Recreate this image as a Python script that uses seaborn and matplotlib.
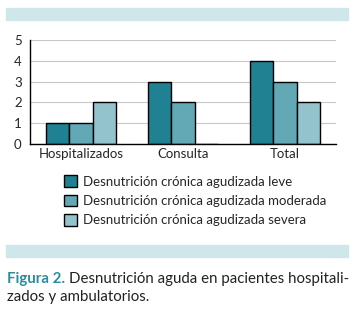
import matplotlib
matplotlib.use("Agg")
import matplotlib.pyplot as plt
from matplotlib.patches import Rectangle, Patch
import seaborn as sns
import pandas as pd

categories = ["Hospitalizados", "Consulta", "Total"]
series = ["Desnutrición crónica agudizada leve",
          "Desnutrición crónica agudizada moderada",
          "Desnutrición crónica agudizada severa"]
leve = [1, 3, 4]
moderada = [1, 2, 3]
severa = [2, 0, 2]
colors = ["#1f8191", "#62a9b5", "#93c4cd"]

rows = []
for s, vals in zip(series, [leve, moderada, severa]):
    for c, v in zip(categories, vals):
        rows.append({"cat": c, "serie": s, "valor": v})
df = pd.DataFrame(rows)

sns.set_style("white")
plt.rcParams["font.family"] = ["Lato", "DejaVu Sans"]

W, H = 354, 317
fig = plt.figure(figsize=(W / 100, H / 100), dpi=100)
ax = fig.add_axes([30 / W, 1 - 144 / H, 306 / W, 104 / H])

sns.barplot(data=df, x="cat", y="valor", hue="serie", palette=colors,
            width=0.68, edgecolor="black", linewidth=1.0, ax=ax,
            legend=False, saturation=1)

ax.set_ylim(0, 5)
ax.set_xlim(-0.5, 2.5)
ax.set_yticks(range(6))
ax.yaxis.grid(True, color="#c8c8c8", linewidth=0.8)
ax.set_axisbelow(True)
ax.set_xlabel("")
ax.set_ylabel("")
for side in ["top", "right"]:
    ax.spines[side].set_visible(False)
for side in ["left", "bottom"]:
    ax.spines[side].set_color("black")
    ax.spines[side].set_linewidth(1.0)
ax.set_xticks([-0.5, 0.5, 1.5, 2.5], minor=True)
ax.tick_params(axis="x", which="major", length=0, labelsize=9.5, pad=3)
ax.tick_params(axis="x", which="minor", length=4, width=1, direction="out",
               color="black")
ax.tick_params(axis="y", length=4, width=1, direction="out", color="black",
               labelsize=9.5, pad=2)

handles = [Patch(facecolor=c, edgecolor="black", linewidth=1.0) for c in colors]
fig.legend(handles, series, loc="upper left", bbox_to_anchor=(59 / W, 1 - 170 / H),
           frameon=False, fontsize=9.5, handlelength=0.95, handleheight=0.95,
           handletextpad=0.45, labelspacing=0.55, borderaxespad=0)

band = "#cfe6ea"
fig.patches.append(Rectangle((6 / W, 1 - 20 / H), 342 / W, 12 / H,
                             transform=fig.transFigure, color=band))
fig.patches.append(Rectangle((6 / W, 1 - 257 / H), 342 / W, 12 / H,
                             transform=fig.transFigure, color=band))

t1 = fig.text(7 / W, 1 - 283 / H, "Figura 2.", color="#2a8c9c",
              fontsize=10.8, fontweight="bold", va="baseline")
fig.canvas.draw()
bb = t1.get_window_extent()
fig.text((bb.x1 + 4) / W, 1 - 283 / H,
         "Desnutrición aguda en pacientes hospitali-", color="#222222",
         fontsize=10.8, va="baseline")
fig.text(7 / W, 1 - 301 / H, "zados y ambulatorios.", color="#222222",
         fontsize=10.8, va="baseline")

fig.savefig("out.png", dpi=100)
